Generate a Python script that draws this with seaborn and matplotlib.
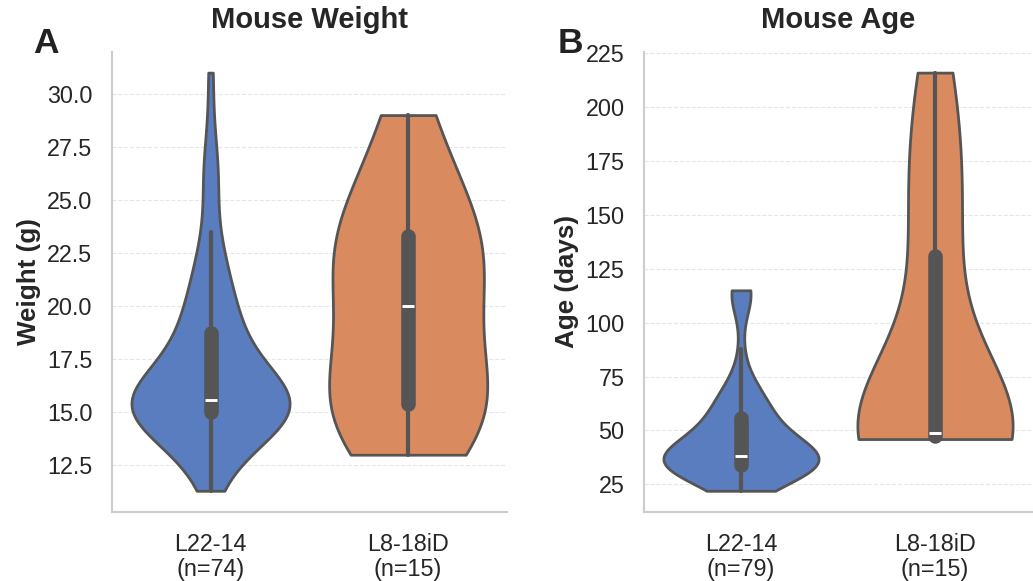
import matplotlib
matplotlib.use("Agg")
import numpy as np
import pandas as pd
import seaborn as sns
import matplotlib.pyplot as plt
from matplotlib.ticker import MultipleLocator, FormatStrFormatter

groups = ["L22-14", "L8-18iD"]

weight_l22 = [11.3, 12.0, 12.5, 12.8, 13.1, 13.4, 13.6, 13.8, 14.0, 14.1, 14.3, 14.4,
              14.5, 14.6, 14.7, 14.8, 14.9, 14.9, 15.0, 15.0,
              15.1, 15.1, 15.2, 15.2, 15.2, 15.3, 15.3, 15.3, 15.4, 15.4, 15.4, 15.5,
              15.5, 15.5, 15.6, 15.6, 15.6, 15.6,
              15.8, 15.9, 16.0, 16.2, 16.3, 16.5, 16.6, 16.8, 17.0, 17.1, 17.3, 17.5,
              17.7, 17.9, 18.1, 18.3, 18.5, 18.8,
              19.0, 19.2, 19.5, 19.8, 20.0, 20.3, 20.6, 21.0, 21.4, 21.8, 22.3, 22.8,
              23.5, 25.5, 26.0, 26.5, 28.0, 31.0]
weight_l8 = [13.0, 14.0, 14.8, 15.2, 15.6, 16.5, 18.5, 20.0, 21.0, 22.0, 23.0, 23.6,
             24.5, 26.5, 29.0]

age_l22 = [22, 24, 26, 27, 28, 29, 29, 30, 30, 31, 31, 32, 32, 32, 33, 33, 33, 34, 34,
           34, 34,
           35, 35, 35, 36, 36, 36, 36, 37, 37, 37, 37, 37, 38, 38, 38, 38, 38, 38,
           38,
           39, 39, 40, 40, 41, 42, 43, 44, 45, 46, 47, 48, 49, 50, 51, 52, 53, 54, 55,
           57,
           58, 59, 60, 61, 62, 63, 64, 66, 68, 70, 72, 75, 88, 108, 112, 114, 115, 115, 115]
age_l8 = [46, 46, 47, 47, 48, 48, 49, 49, 56, 72, 118, 144, 165, 190, 216]

titles = ["Mouse Weight", "Mouse Age"]
ylabels = ["Weight (g)", "Age (days)"]
letters = ["A", "B"]
letter_x = [-0.2, -0.222]
tick_steps = [2.5, 25]
tick_formats = ["%.1f", "%d"]

sns.set_theme(style="whitegrid")
plt.rcParams['font.family'] = ['Liberation Sans', 'DejaVu Sans']

palette = sns.color_palette("muted", 2)

W, H = 1033, 581
fig = plt.figure(figsize=(W / 100, H / 100), dpi=100)
axA = fig.add_axes([111.7 / W, (H - 511.7) / H, 395.3 / W, 460 / H])
axB = fig.add_axes([644 / W, (H - 511.7) / H, 388 / W, 460 / H])

panels = [(axA, weight_l22, weight_l8), (axB, age_l22, age_l8)]

for i, (ax, a, b) in enumerate(panels):
    df = pd.DataFrame({"group": [groups[0]] * len(a) + [groups[1]] * len(b),
                       "value": list(a) + list(b)})
    sns.violinplot(data=df, x="group", y="value", hue="group", order=groups,
                   hue_order=groups, palette=palette, cut=0, density_norm="width",
                   linewidth=2, linecolor="#555555", legend=False, ax=ax,
                   inner="box", inner_kws=dict(box_width=10.5, whis_width=3))
    ax.set_xticks([0, 1])
    ax.set_xticklabels([f"{groups[0]}\n(n={len(a)})", f"{groups[1]}\n(n={len(b)})"],
                       fontsize=16.8, linespacing=1.12)
    ax.set_xlabel("")
    ax.set_ylabel(ylabels[i], fontsize=18.7, fontweight="bold", labelpad=4.5)
    ax.set_title(titles[i], fontsize=21, fontweight="bold", pad=17)
    ax.yaxis.set_major_locator(MultipleLocator(tick_steps[i]))
    ax.yaxis.set_major_formatter(FormatStrFormatter(tick_formats[i]))
    ax.tick_params(axis="y", labelsize=16.8, pad=14, length=0)
    ax.tick_params(axis="x", pad=15, length=0)
    ax.grid(axis="y", ls="--", color="#e6e6e6", lw=0.8)
    ax.grid(axis="x", visible=False)
    for s in ["top", "right"]:
        ax.spines[s].set_visible(False)
    for s in ["left", "bottom"]:
        ax.spines[s].set_color("#cccccc")
        ax.spines[s].set_linewidth(1.5)
    ax.text(letter_x[i], 0.997, letters[i], transform=ax.transAxes, fontsize=25.5,
            fontweight="bold", va="baseline", ha="left", color="#222222")

fig.savefig("out.png", dpi=100)
